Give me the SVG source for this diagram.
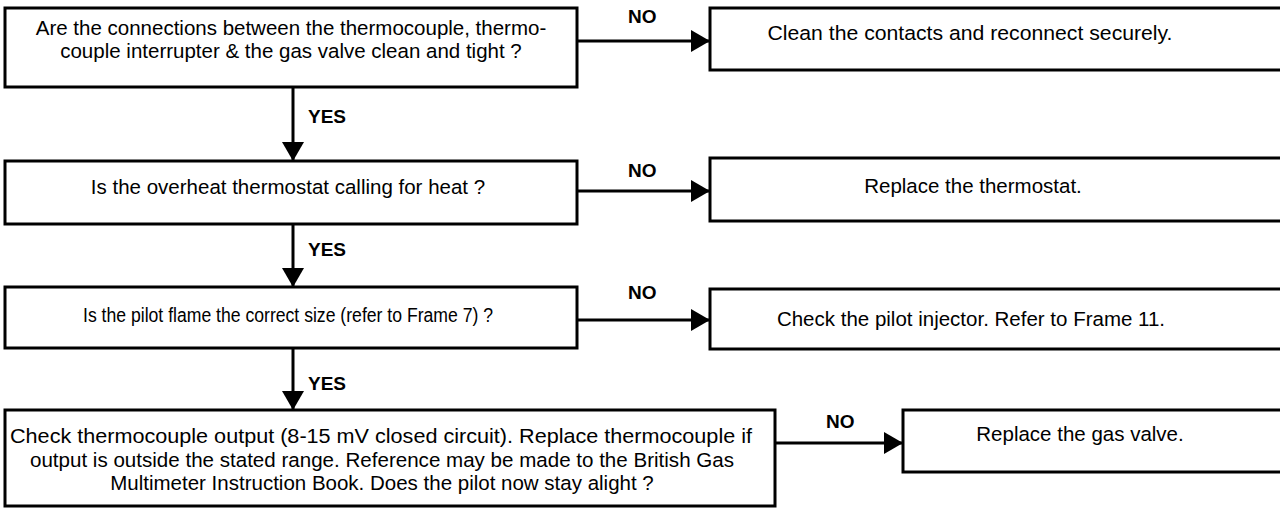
<svg xmlns="http://www.w3.org/2000/svg" width="1280" height="508" viewBox="0 0 1280 508">
<style>
.box{fill:#fff;stroke:#000;stroke-width:3}
.t{font-family:"Liberation Sans",Arial,sans-serif;font-size:20.5px;fill:#000;text-anchor:middle}
.lbl{font-family:"Liberation Sans",Arial,sans-serif;font-size:19px;font-weight:bold;fill:#000}
.c{stroke:#000;stroke-width:3;fill:none}
</style>
<defs>
<marker id="ah" markerUnits="userSpaceOnUse" markerWidth="20" markerHeight="22" refX="19" refY="11" orient="auto">
<path d="M0,0 L19,11 L0,22 z" fill="#000"/>
</marker>
</defs>
<rect width="1280" height="508" fill="#fff"/>
<g id="q1">
<rect class="box" x="5" y="8" width="572" height="79"/>
<text class="t" x="291" y="35">Are the connections between the thermocouple, thermo-</text>
<text class="t" x="291" y="58">couple interrupter &amp; the gas valve clean and tight ?</text>
</g>
<g id="a1">
<rect class="box" x="710" y="8" width="590" height="62"/>
<text class="t" x="970" y="40" textLength="405" lengthAdjust="spacingAndGlyphs">Clean the contacts and reconnect securely.</text>
</g>
<g id="q2">
<rect class="box" x="5" y="161" width="572" height="63"/>
<text class="t" x="288" y="194">Is the overheat thermostat calling for heat ?</text>
</g>
<g id="a2">
<rect class="box" x="710" y="158" width="590" height="63"/>
<text class="t" x="973" y="193">Replace the thermostat.</text>
</g>
<g id="q3">
<rect class="box" x="5" y="287" width="572" height="61"/>
<text class="t" x="288" y="322" style="font-size:19.5px" textLength="410" lengthAdjust="spacingAndGlyphs">Is the pilot flame the correct size (refer to Frame 7) ?</text>
</g>
<g id="a3">
<rect class="box" x="710" y="289" width="590" height="60"/>
<text class="t" x="971" y="326">Check the pilot injector. Refer to Frame 11.</text>
</g>
<g id="q4">
<rect class="box" x="5" y="410" width="770" height="96"/>
<text class="t" x="381" y="443" textLength="742" lengthAdjust="spacingAndGlyphs">Check thermocouple output  (8-15 mV closed circuit). Replace thermocouple if</text>
<text class="t" x="382" y="467" textLength="704" lengthAdjust="spacingAndGlyphs">output is outside the stated range. Reference may be made to the British Gas</text>
<text class="t" x="382" y="490">Multimeter Instruction Book. Does the pilot now stay alight ?</text>
</g>
<g id="a4">
<rect class="box" x="903" y="410" width="400" height="62"/>
<text class="t" x="1080" y="441">Replace the gas valve.</text>
</g>
<g id="connectors">
<line class="c" x1="577" y1="41" x2="710" y2="41" marker-end="url(#ah)"/>
<text class="lbl" x="628" y="23">NO</text>
<line class="c" x1="293" y1="87" x2="293" y2="161" marker-end="url(#ah)"/>
<text class="lbl" x="308" y="123">YES</text>
<line class="c" x1="577" y1="191" x2="710" y2="191" marker-end="url(#ah)"/>
<text class="lbl" x="628" y="177">NO</text>
<line class="c" x1="293" y1="224" x2="293" y2="287" marker-end="url(#ah)"/>
<text class="lbl" x="308" y="256">YES</text>
<line class="c" x1="577" y1="320" x2="710" y2="320" marker-end="url(#ah)"/>
<text class="lbl" x="628" y="299">NO</text>
<line class="c" x1="293" y1="348" x2="293" y2="410" marker-end="url(#ah)"/>
<text class="lbl" x="308" y="390">YES</text>
<line class="c" x1="775" y1="443" x2="903" y2="443" marker-end="url(#ah)"/>
<text class="lbl" x="826" y="428">NO</text>
</g>
</svg>
